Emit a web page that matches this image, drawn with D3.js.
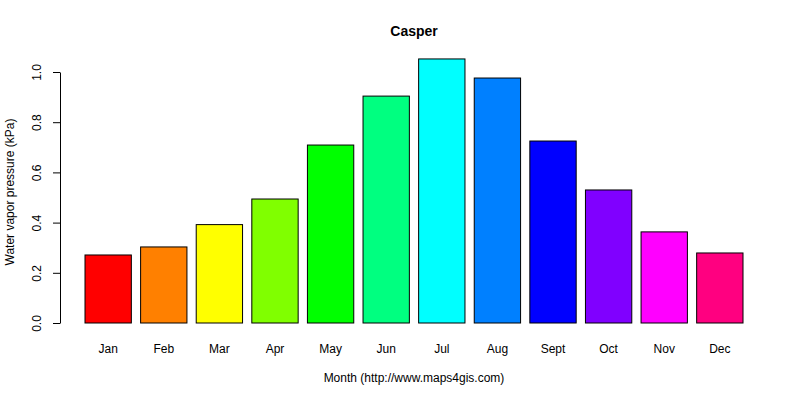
<!DOCTYPE html>
<html><head><meta charset="utf-8">
<script src="https://cdn.jsdelivr.net/npm/d3@7"></script>
<style>body{margin:0;background:#fff}text{font-family:"Liberation Sans",Arial,sans-serif}</style>
</head><body>
<svg id="c" width="800" height="400"></svg>
<script>
const months = ["Jan","Feb","Mar","Apr","May","Jun","Jul","Aug","Sept","Oct","Nov","Dec"];
const values = [0.271,0.303,0.392,0.494,0.709,0.904,1.052,0.976,0.725,0.530,0.363,0.279];
const colors = ["#FF0000","#FF8000","#FFFF00","#80FF00","#00FF00","#00FF80","#00FFFF","#0080FF","#0000FF","#8000FF","#FF00FF","#FF0080"];
const yTicks = [0,0.2,0.4,0.6,0.8,1.0];

const svg = d3.select("#c");
const x = d3.scaleLinear().domain([0.2,14.4]).range([85,743]);
const y = d3.scaleLinear().domain([0,1]).range([323,72]);

svg.selectAll("rect").data(values).join("rect")
  .attr("x",(d,i)=>x(0.2+1.2*i)).attr("width",(d,i)=>x(1.2+1.2*i)-x(0.2+1.2*i))
  .attr("y",d=>y(d)).attr("height",d=>y(0)-y(d))
  .attr("fill",(d,i)=>colors[i]).attr("stroke","#000").attr("stroke-width",1);

svg.selectAll(".ml").data(months).join("text")
  .attr("x",(d,i)=>x(0.7+1.2*i)).attr("y",353).attr("text-anchor","middle")
  .attr("font-size",12).text(d=>d);

const ax = svg.append("g").attr("transform","translate(60,0)")
  .call(d3.axisLeft(y).tickValues(yTicks).tickFormat(d3.format(".1f")).tickSize(7).tickSizeOuter(0));
ax.attr("font-family",null);
ax.select(".domain").attr("stroke","#000");
ax.selectAll(".tick line").attr("stroke","#000");
ax.selectAll(".tick text").attr("font-size",12).attr("fill","#000")
  .attr("x",null).attr("y",null).attr("dy",null)
  .attr("text-anchor","middle")
  .attr("transform","translate(-19,0) rotate(-90)");

svg.append("text").attr("x",414).attr("y",36).attr("text-anchor","middle")
  .attr("font-size",14).attr("font-weight","bold").text("Casper");
svg.append("text").attr("x",414).attr("y",382).attr("text-anchor","middle")
  .attr("font-size",12).text("Month (http://www.maps4gis.com)");
svg.append("text").attr("transform","translate(14,192) rotate(-90)").attr("text-anchor","middle")
  .attr("font-size",12).text("Water vapor pressure (kPa)");
</script>
</body></html>
